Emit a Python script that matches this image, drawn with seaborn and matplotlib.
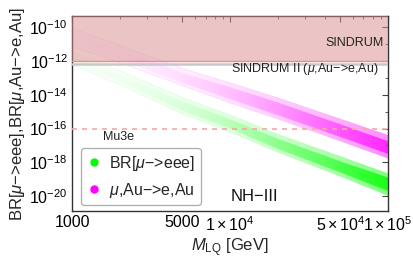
import numpy as np
import pandas as pd
import matplotlib
matplotlib.use("Agg")
import matplotlib.pyplot as plt
import seaborn as sns
from matplotlib.lines import Line2D
from matplotlib.colors import to_rgb

# ---------------- data (exponents of 10) ----------------
M_LQ = [1000, 2000, 5000, 10000, 20000, 50000, 100000]

# BR[mu->eee] band (upper / lower edge, core upper / core lower)
eee_hi = [-11.48, -12.56, -14.17, -15.19, -16.33, -17.65, -18.66]
eee_lo = [-12.20, -13.40, -15.13, -16.20, -17.40, -18.84, -19.98]
eee_core_hi = [-11.70, -12.80, -14.40, -15.45, -16.60, -17.95, -18.90]
eee_core_lo = [-12.00, -13.20, -14.95, -16.00, -17.20, -18.60, -19.70]

# mu,Au->e,Au band
au_hi = [-10.04, -11.06, -12.44, -13.28, -14.17, -15.43, -16.39]
au_lo = [-11.12, -12.08, -13.46, -14.48, -15.43, -16.75, -17.77]
au_core_hi = [-10.30, -11.30, -12.70, -13.55, -14.45, -15.75, -16.75]
au_core_lo = [-10.90, -11.90, -13.30, -14.25, -15.20, -16.50, -17.50]

SINDRUM = 1e-12
SINDRUM_II = 7e-13
MU3E = 1e-16

x_ticks = [1000, 5000, 10000, 50000, 100000]
x_ticklabels = ["1000", "5000", r"$1\times10^{4}$", r"$5\times10^{4}$", r"$1\times10^{5}$"]
y_ticks_exp = [-20, -18, -16, -14, -12, -10]
legend_labels = [r"BR[$\mu$−>eee]", r"$\mu$,Au−>e,Au"]

GREEN = "#00ff00"
MAGENTA = "#ff00ff"

# ---------------- style ----------------
sns.set_theme(style="white")
plt.rcParams["font.family"] = ["Liberation Sans", "DejaVu Sans"]
plt.rcParams["mathtext.fontset"] = "custom"
plt.rcParams["mathtext.rm"] = "Liberation Sans"
plt.rcParams["mathtext.it"] = "Liberation Sans:italic"
plt.rcParams["mathtext.bf"] = "Liberation Sans:bold"

fig = plt.figure(figsize=(4.14, 2.60), dpi=100)
ax = fig.add_axes([0.174, 0.188, 0.763, 0.750])
ax.set_xscale("log")
ax.set_yscale("log")
XLIM = (1000, 100000)
YLIM = (10 ** -20.9, 10 ** -9.33)
ax.set_xlim(*XLIM)
ax.set_ylim(*YLIM)
ax.set_autoscale_on(False)

# edges of the bands through seaborn
rows = []
for name, arr in [("eee_hi", eee_hi), ("eee_lo", eee_lo), ("au_hi", au_hi), ("au_lo", au_lo)]:
    for m, e in zip(M_LQ, arr):
        rows.append({"M": m, "BR": 10.0 ** e, "edge": name})
df = pd.DataFrame(rows)
pal = {"eee_hi": GREEN, "eee_lo": GREEN, "au_hi": MAGENTA, "au_lo": MAGENTA}
sns.lineplot(data=df, x="M", y="BR", hue="edge", palette=pal, ax=ax,
             legend=False, lw=0.5, alpha=0.12, zorder=2)


def gradient_band(lo, hi, color, a0, a1, power):
    poly = ax.fill_between(M_LQ, [10.0 ** v for v in lo], [10.0 ** v for v in hi],
                           facecolor="none", edgecolor="none")
    img = np.zeros((1, 256, 4))
    img[..., :3] = to_rgb(color)
    img[0, :, 3] = a0 + (a1 - a0) * np.linspace(0, 1, 256) ** power
    im = ax.imshow(img, extent=[0, 1, 0, 1], transform=ax.transAxes,
                   aspect="auto", interpolation="bilinear", zorder=2)
    im.set_clip_path(poly.get_paths()[0], transform=ax.transData)


gradient_band(eee_lo, eee_hi, GREEN, 0.03, 0.50, 2.2)
gradient_band(eee_core_lo, eee_core_hi, GREEN, 0.02, 0.80, 2.4)
gradient_band(au_lo, au_hi, MAGENTA, 0.03, 0.45, 2.2)
gradient_band(au_core_lo, au_core_hi, MAGENTA, 0.02, 0.72, 2.4)

ax.set_xlim(*XLIM)
ax.set_ylim(*YLIM)

# experimental limits
ax.axhspan(SINDRUM, YLIM[1], facecolor="#d98c8c", alpha=0.5, edgecolor="none", zorder=3)
ax.axhline(SINDRUM, color="#f08a8a", lw=1.0, zorder=4)
ax.axhline(SINDRUM_II, color="#c8c8c8", lw=1.8, zorder=4)
ax.axhline(MU3E, color="#f5a8a8", lw=1.2, ls=(0, (3, 3)), zorder=4)

ax.text(0.985, 0.862, "SINDRUM", transform=ax.transAxes, ha="right", va="center",
        fontsize=9, color="#222222", zorder=5)
ax.text(0.97, 0.727, r"SINDRUM II ($\mu$,Au−>e,Au)", transform=ax.transAxes,
        ha="right", va="center", fontsize=9, color="#222222", zorder=5)
ax.text(0.098, 0.381, "Mu3e", transform=ax.transAxes, ha="left", va="center",
        fontsize=9, color="#222222", zorder=5)
ax.text(0.578, 0.073, "NH−III", transform=ax.transAxes, ha="center", va="center",
        fontsize=12, color="#111111", zorder=5)

# ticks
ax.set_xticks(x_ticks)
ax.set_xticklabels(x_ticklabels)
minor_x = [m * d for d in (1000, 10000) for m in range(2, 10) if m * d not in x_ticks]
ax.set_xticks(minor_x, minor=True)
ax.set_xticklabels([], minor=True)
ax.set_yticks([10.0 ** e for e in y_ticks_exp])
ax.set_yticklabels([r"$10^{%d}$" % e for e in y_ticks_exp])
ax.set_yticks([10.0 ** (e + 1) for e in y_ticks_exp], minor=True)
ax.set_yticklabels([], minor=True)
ax.set_ylim(*YLIM)
ax.tick_params(which="both", direction="in", top=True, right=True,
               colors="#444444", labelcolor="black", labelsize=11.5)
ax.tick_params(which="major", length=4, width=0.8, pad=3)
ax.tick_params(which="minor", length=2.5, width=0.6)
for sp in ax.spines.values():
    sp.set_color("#333333")
    sp.set_linewidth(1.0)

ax.set_xlabel(r"$M_{\rm LQ}$ [GeV]", fontsize=12, labelpad=2)
ax.set_ylabel(r"BR[$\mu$−>eee],BR[$\mu$,Au−>e,Au]", fontsize=12, labelpad=2)

handles = [Line2D([], [], marker="o", ls="", color=GREEN, markersize=5),
           Line2D([], [], marker="o", ls="", color=MAGENTA, markersize=5)]
leg = ax.legend(handles, legend_labels, loc="lower left", bbox_to_anchor=(0.028, 0.03),
                fontsize=11.5, frameon=True, fancybox=True, borderpad=0.35,
                handletextpad=0.4, handlelength=1.0, labelspacing=0.5,
                borderaxespad=0.0)
leg.get_frame().set_edgecolor("#999999")
leg.get_frame().set_linewidth(0.9)
leg.set_zorder(6)

fig.savefig("out.png", dpi=100)
